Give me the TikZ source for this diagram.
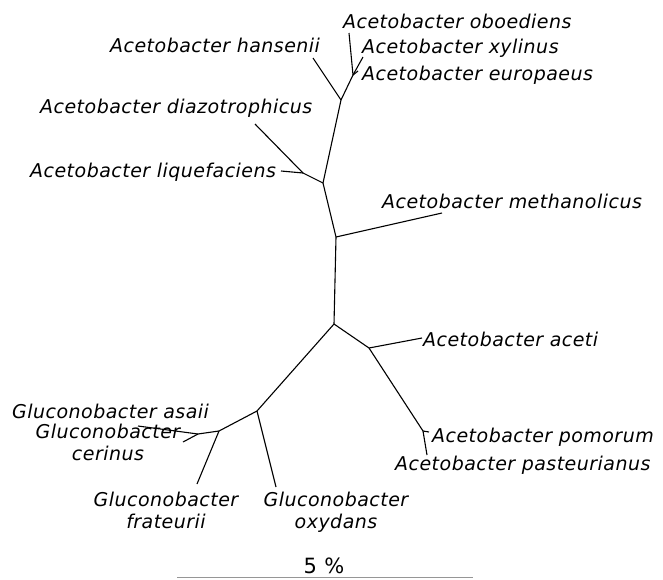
\documentclass[tikz,border=0pt]{standalone}
\usepackage{fontspec}
\setmainfont{DejaVu Sans}
\newfontfamily\taxfont[LetterSpace=2.5]{DejaVu Sans}
\usepackage{tikz}
\usetikzlibrary{positioning}
\definecolor{treeblack}{RGB}{0,0,0}
\definecolor{bargray}{RGB}{150,150,150}
\tikzset{
  branch/.style={draw=treeblack, line width=1.1pt},
  taxon/.style={inner sep=0pt, font=\taxfont\fontsize{19}{22}\selectfont\itshape, anchor=base west},
  taxontwo/.style={inner sep=0pt, font=\taxfont\fontsize{19}{22}\selectfont\itshape, align=center, anchor=base},
  scalebar/.style={draw=bargray, line width=1pt},
  scalelabel/.style={inner sep=0pt, font=\taxfont\fontsize{21}{24}\selectfont, anchor=base}
}
\begin{document}
\begin{tikzpicture}[x=1pt,y=-1pt]
\useasboundingbox (0,0) rectangle (663,579);
% internal nodes
\coordinate (nxyl) at (353,75);
\coordinate (nhan) at (341,100);
\coordinate (nupper) at (323,183);
\coordinate (ndiaz) at (303,173);
\coordinate (nmeth) at (336,237);
\coordinate (nroot) at (334,324);
\coordinate (nacet) at (369,348);
\coordinate (npast) at (423,431);
\coordinate (nglu) at (257,411);
\coordinate (nfrat) at (219,431);
\coordinate (nasa) at (198,434);
% leaf ends
\coordinate (toboe) at (349,33);
\coordinate (txyl) at (363,57);
\coordinate (teur) at (358,71);
\coordinate (than) at (313,58);
\coordinate (tdiaz) at (255,124);
\coordinate (tliq) at (281,171);
\coordinate (tmeth) at (442,213);
\coordinate (tacet) at (422,338);
\coordinate (tpom) at (429,432);
\coordinate (tpast) at (427,455);
\coordinate (tasa) at (138,426);
\coordinate (tcer) at (183,442);
\coordinate (tfrat) at (197,484);
\coordinate (toxy) at (276,487);
% branches
\draw[branch] (toboe) -- (nxyl);
\draw[branch] (txyl) -- (nxyl);
\draw[branch] (teur) -- (nxyl);
\draw[branch] (nxyl) -- (nhan);
\draw[branch] (than) -- (nhan);
\draw[branch] (nhan) -- (nupper);
\draw[branch] (tdiaz) -- (ndiaz);
\draw[branch] (tliq) -- (ndiaz);
\draw[branch] (ndiaz) -- (nupper);
\draw[branch] (nupper) -- (nmeth);
\draw[branch] (nmeth) -- (tmeth);
\draw[branch] (nmeth) -- (nroot);
\draw[branch] (nroot) -- (nacet);
\draw[branch] (nacet) -- (tacet);
\draw[branch] (nacet) -- (npast);
\draw[branch] (npast) -- (tpom);
\draw[branch] (npast) -- (tpast);
\draw[branch] (nroot) -- (nglu);
\draw[branch] (nglu) -- (toxy);
\draw[branch] (nglu) -- (nfrat);
\draw[branch] (nfrat) -- (tfrat);
\draw[branch] (nfrat) -- (nasa);
\draw[branch] (nasa) -- (tasa);
\draw[branch] (nasa) -- (tcer);
% labels
\node[taxon] (loboe) at (343,28) {Acetobacter oboediens};
\node[taxon] (lxyl) at (362,53) {Acetobacter xylinus};
\node[taxon] (leur) at (362,80) {Acetobacter europaeus};
\node[taxon] (lhan) at (110,52) {Acetobacter hansenii};
\node[taxon] (ldiaz) at (40,113) {Acetobacter diazotrophicus};
\node[taxon] (lliq) at (30,177) {Acetobacter liquefaciens};
\node[taxon] (lmeth) at (382,208) {Acetobacter methanolicus};
\node[taxon] (lacet) at (423,346) {Acetobacter aceti};
\node[taxon] (lpom) at (432,442) {Acetobacter pomorum};
\node[taxon] (lpast) at (395,470) {Acetobacter pasteurianus};
\node[taxon] (lasa) at (12,418) {Gluconobacter asaii};
\node[taxontwo] (lcer) at (108,460) {Gluconobacter\\cerinus};
\node[taxontwo] (lfrat) at (166,528) {Gluconobacter\\frateurii};
\node[taxontwo] (loxy) at (336,528) {Gluconobacter\\oxydans};
% scale bar
\coordinate (sbl) at (177,577.5);
\coordinate (sbr) at (473,577.5);
\draw[scalebar] (sbl) -- (sbr);
\node[scalelabel] (lscale) at (324,573) {5 \%};
\end{tikzpicture}
\end{document}
